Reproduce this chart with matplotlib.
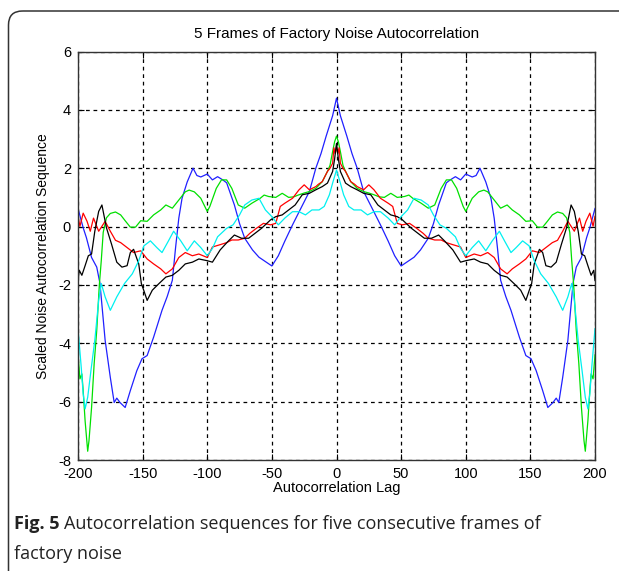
import numpy as np
import matplotlib
matplotlib.use('Agg')
import matplotlib.pyplot as plt
from matplotlib.patches import FancyBboxPatch

plt.rcParams['axes.unicode_minus'] = False

# one-sided autocorrelation values (lag >= 0), mirrored for negative lags
blue_lag = [0, 3, 8, 12, 16, 21, 25, 29, 34, 40, 45, 50, 55, 60, 65, 71, 75, 79, 85, 88,
            92, 96, 100, 105, 108, 111, 115.5, 119.5, 122, 124.5, 127, 131, 135, 141.5, 146.5,
            150.5, 154.5, 159.5, 163.5, 167.5, 170, 172, 175, 179, 183, 185.5, 189.5, 193.5, 196, 200]
blue_val = [4.4, 3.8, 3.1, 2.5, 2.0, 1.2, 0.85, 0.5, 0.06, -0.5, -1.0, -1.35, -1.2, -1.05, -0.8,
            -0.4, 0.1, 0.74, 1.5, 1.6, 1.71, 1.6, 1.8, 1.7, 1.75, 2.0, 1.53, 0.97, 0.29, -0.72,
            -1.84, -2.4, -2.87, -3.79, -4.42, -4.53, -4.94, -5.62, -6.2, -6.03, -5.88, -6.03,
            -5.17, -3.9, -1.95, -1.39, -1.06, -0.38, -0.04, 0.62]

green_lag = [0, 1.5, 3, 5, 7, 11, 16, 21, 25, 29, 33, 37, 42, 47, 52.5, 56, 59, 65.5, 71, 76,
             81, 85, 89, 93, 98, 100, 105, 110, 114, 117, 122, 127, 132, 136, 141.5, 146.5,
             151.5, 155.5, 159.5, 163.5, 167, 171, 175, 178, 180.5, 182, 183.5, 185.5, 187.5,
             189.5, 191.5, 192.5, 194.5, 196, 197, 198.5, 200]
green_val = [3.1, 2.9, 2.57, 2.1, 1.89, 1.54, 1.31, 1.2, 1.15, 1.09, 1.02, 1.0, 1.14, 1.0, 1.03,
             1.08, 0.97, 0.8, 0.63, 0.74, 1.31, 1.6, 1.6, 1.31, 0.69, 0.52, 0.97, 1.19, 1.25,
             1.19, 0.91, 0.63, 0.74, 0.57, 0.4, 0.18, 0.2, -0.02, -0.02, 0.2, 0.4, 0.5, 0.45,
             0.3, -0.2, -1.17, -2.0, -3.56, -4.7, -6.2, -7.34, -7.7, -6.66, -5.62, -5.05, -5.22, -4.4]

red_lag = [0, 1, 2, 3, 5, 7, 11, 14, 16, 21, 25, 29, 34, 40, 43.5, 47, 51, 56.5, 62, 67, 71,
           76, 81, 85, 90, 96, 100, 106.5, 111.5, 117, 122, 127, 132, 136, 141.5, 146.5, 151.5,
           157, 162, 167, 171, 175, 179, 184, 188, 190.5, 193, 196, 198.5, 200]
red_val = [2.74, 2.5, 2.7, 2.17, 2.0, 1.89, 1.54, 1.45, 1.37, 1.26, 1.43, 1.26, 0.97, 0.8, 0.69,
           0.11, 0.06, 0.11, -0.06, -0.23, -0.4, -0.46, -0.46, -0.55, -0.62, -0.7, -1.06, -0.94,
           -1.0, -0.89, -1.06, -1.45, -1.62, -1.45, -1.28, -1.11, -0.83, -0.89, -0.72, -0.55,
           -0.47, -0.16, 0.18, -0.16, 0.29, -0.16, 0.18, 0.46, 0.01, 0.35]

black_lag = [0, 1.5, 3, 7, 11, 16, 21, 26.5, 32, 37, 42, 47, 51, 58, 63, 68, 73.5, 79, 84, 90,
             96, 100, 106.5, 111.5, 117, 122, 127, 132, 137.5, 142.5, 146.5, 149, 151, 153, 157,
             159.5, 162, 166, 170, 174, 178, 181.5, 184, 187, 189.5, 192, 194.5, 197, 199, 200]
black_val = [2.85, 2.3, 1.89, 1.49, 1.37, 1.26, 1.14, 1.09, 0.74, 0.57, 0.4, 0.34, 0.23, -0.06,
             -0.23, -0.4, -0.4, -0.29, -0.51, -0.8, -1.22, -1.17, -1.11, -1.22, -1.28, -1.5,
             -1.67, -1.73, -1.96, -2.18, -2.53, -2.2, -1.95, -1.28, -0.78, -0.89, -1.34, -1.39,
             -1.22, -0.61, -0.04, 0.74, 0.52, -0.16, -0.94, -1.0, -1.34, -1.67, -1.5, -1.85]

cyan_lag = [0, 3, 5.5, 9.5, 13.5, 19, 24, 29, 34, 40, 45, 50, 55, 60, 65.5, 71, 75, 80, 85, 92,
            96, 100, 105, 110, 115.5, 120.5, 126, 130, 135, 139, 144, 149, 153, 158, 164, 170,
            175, 179, 182, 184, 187, 190, 192.5, 194.5, 196, 197.5, 200]
cyan_val = [1.94, 1.49, 1.09, 0.69, 0.57, 0.57, 0.4, 0.51, 0.51, 0.29, 0.06, 0.34, 0.57, 0.97,
            0.91, 0.74, 0.4, 0.06, -0.06, -0.35, -0.75, -1.0, -0.72, -0.49, -0.83, -0.49, -0.16,
            -0.49, -0.89, -0.72, -0.49, -0.66, -1.17, -1.62, -1.95, -2.41, -2.87, -2.41, -1.95,
            -2.53, -3.9, -4.94, -5.85, -6.25, -5.73, -4.82, -3.5]

series = [
    (blue_lag, blue_val, '#2020ff'),
    (green_lag, green_val, '#00e000'),
    (red_lag, red_val, '#ff0000'),
    (black_lag, black_val, '#000000'),
    (cyan_lag, cyan_val, '#00f0f0'),
]

matlab_font = ['Liberation Sans', 'DejaVu Sans']

fig = plt.figure(figsize=(6.19, 5.71), dpi=100)

# rounded frame around the whole figure (open on right/bottom edges)
bg = fig.add_axes([0, 0, 1, 1])
bg.set_xlim(0, 619)
bg.set_ylim(571, 0)
bg.axis('off')
frame = FancyBboxPatch((8.5, 11), 640, 600, boxstyle='round,pad=0,rounding_size=14',
                       fc='none', ec='#333333', lw=1.1)
bg.add_patch(frame)

ax = fig.add_axes([78 / 619, 1 - 460 / 571, (595 - 78) / 619, (460 - 51.5) / 571])

def mirror(lag, val):
    lag = np.asarray(lag, float)
    val = np.asarray(val, float)
    return np.concatenate([-lag[::-1], lag[1:]]), np.concatenate([val[::-1], val[1:]])

for lag, val, c in series:
    x, y = mirror(lag, val)
    ax.plot(x, y, color=c, lw=0.9)

ax.set_xlim(-200, 200)
ax.set_ylim(-8, 6)
ax.set_xticks(np.arange(-200, 201, 50))
ax.set_yticks(np.arange(-8, 7, 2))
ax.grid(True, color='black', linestyle=(0, (3, 3)), lw=0.9)
ax.tick_params(direction='in', top=True, right=True, length=4, width=0.8,
               labelsize=10.5)
ax.tick_params(axis='x', pad=5)
ax.tick_params(axis='y', pad=5)
for lbl in ax.get_xticklabels() + ax.get_yticklabels():
    lbl.set_family(matlab_font)
for s in ax.spines.values():
    s.set_color('#333333')
    s.set_linewidth(1.0)

ax.set_title('5 Frames of Factory Noise Autocorrelation', fontsize=11,
             family=matlab_font, pad=10)
ax.set_xlabel('Autocorrelation Lag', fontsize=10.5, family=matlab_font, labelpad=0)
ax.set_ylabel('Scaled Noise Autocorrelation Sequence', fontsize=10,
              family=matlab_font, labelpad=6)

# caption
cap_font = ['Open Sans', 'DejaVu Sans']
t1 = fig.text(14 / 619, 1 - 524 / 571, 'Fig. 5', fontsize=13, fontweight='bold',
              family=cap_font, va='center', ha='left', color='#222222')
fig.canvas.draw()
bb = t1.get_window_extent()
fig.text((bb.x1 + 5) / 619, 1 - 524 / 571,
         'Autocorrelation sequences for five consecutive frames of',
         fontsize=13, family=cap_font, va='center', ha='left', color='#222222')
fig.text(14 / 619, 1 - 554 / 571, 'factory noise', fontsize=13, family=cap_font,
         va='center', ha='left', color='#222222')

fig.savefig('out.png', dpi=100)
